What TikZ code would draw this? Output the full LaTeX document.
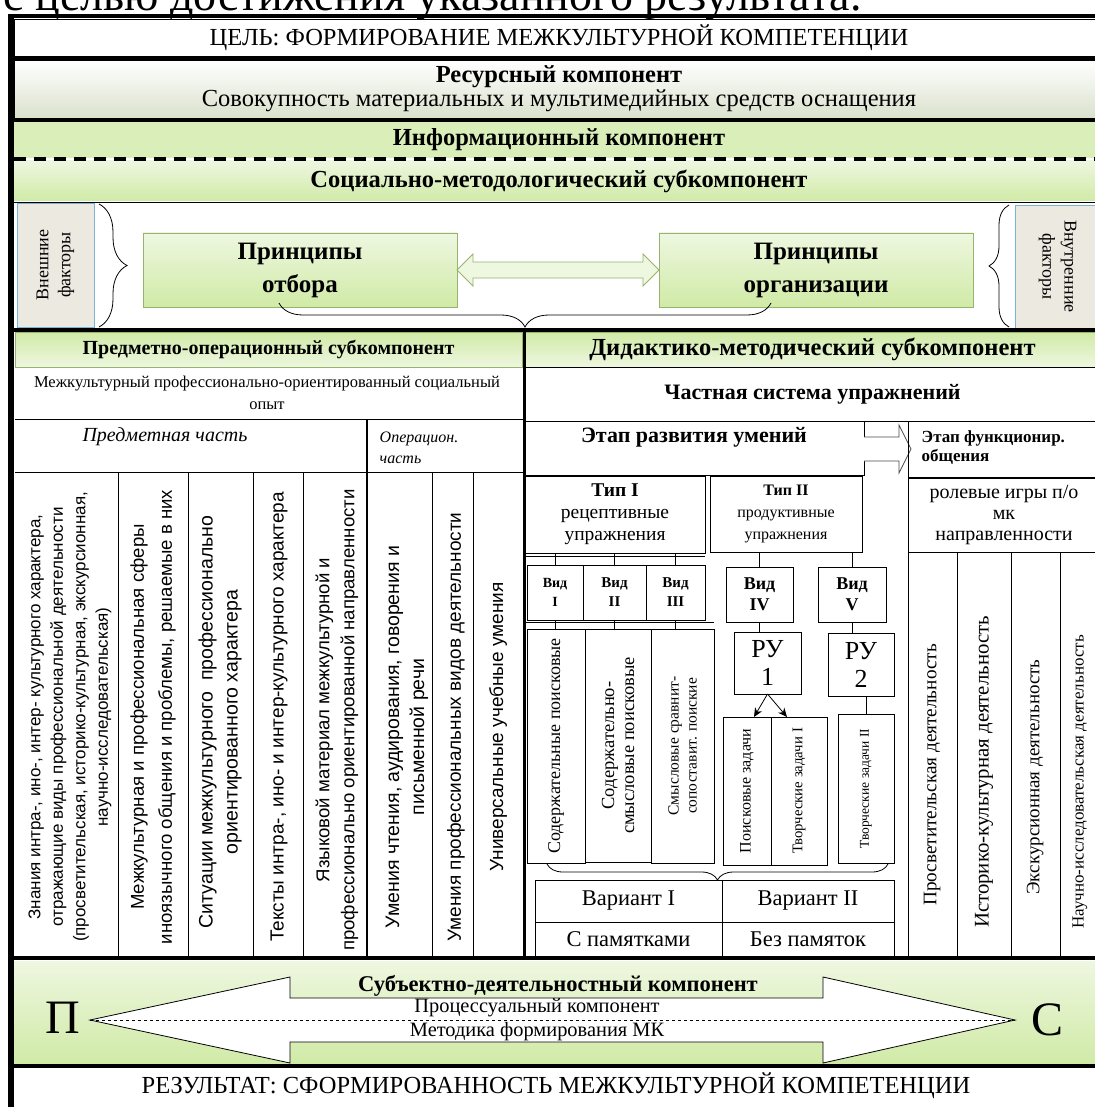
\documentclass[tikz,border=0pt]{standalone}
\usepackage{fontspec}
\setmainfont{Liberation Serif}
\newfontfamily\colsans{Liberation Sans}
\usetikzlibrary{positioning,arrows.meta,decorations.pathreplacing}
\newcommand\fsz[2]{\fontsize{#1}{#2}\selectfont}
\definecolor{barlight}{RGB}{238,247,224}
\definecolor{bargreen}{RGB}{208,234,166}
\definecolor{edgegreen}{RGB}{150,180,110}
\definecolor{factgray}{RGB}{236,233,225}
\definecolor{factblue}{RGB}{120,180,215}
\definecolor{resgray}{RGB}{218,225,205}

\begin{document}
\begin{tikzpicture}[x=1pt, y=-1pt, line width=0.8pt,
  box/.style={draw, anchor=north west, inner sep=0pt, outer sep=0pt, align=center},
  greenbox/.style={box, draw=edgegreen, top color=barlight, bottom color=bargreen},
  hdrbox/.style={box, draw=edgegreen, top color=bargreen, bottom color=barlight},
  sidebox/.style={box, draw=factblue, fill=factgray},
  vtext/.style={rotate=90, align=center},
  heavy/.style={line width=4.5pt},
  arrowtip/.style={-{Stealth[length=9pt,width=8pt]}},
  cbrace/.style={decorate, decoration={brace, amplitude=#1}}]
\fill[white] (0,0) rectangle (1094,1107);
\useasboundingbox (0,0) rectangle (1094,1107);

\node[anchor=base west, font=\fsz{46}{50}] (lead) at (0,11) {с целью достижения указанного результата.};

\node[box, fill=white, minimum width=1090, minimum height=38, font=\fsz{24.5}{28}] (goal) at (14,19) {ЦЕЛЬ: ФОРМИРОВАНИЕ МЕЖКУЛЬТУРНОЙ КОМПЕТЕНЦИИ};
\node[box, minimum width=1090, minimum height=58, top color=white, bottom color=resgray, font=\fsz{24.5}{24}] (res) at (14,60) {\textbf{Ресурсный компонент}\\Совокупность материальных и мультимедийных средств оснащения};
\node[box, draw=none, minimum width=1090, minimum height=36, fill=bargreen!80!white, font=\bfseries\fsz{24.5}{28}] (info) at (14,122) {Информационный компонент};
\node[greenbox, draw=none, minimum width=1090, minimum height=40, font=\bfseries\fsz{24.5}{28}] (soc) at (14,161) {Социально-методологический субкомпонент};
\draw[heavy] (8,16) -- (1100,16);
\draw[heavy] (8,58) -- (1100,58);
\draw[heavy] (8,120) -- (1100,120);
\draw[heavy, dash pattern=on 12pt off 8pt] (14,159) -- (1100,159);
\draw (14,202) -- (1100,202);

\node[sidebox, minimum width=77, minimum height=124] (ext) at (17,203) {};
\node[vtext, font=\fsz{18}{22}] (extl) at (ext) {Внешние\\факторы};
\draw[cbrace=28] (99,204) -- (99,327);
\node[greenbox, minimum width=314, minimum height=74, font=\bfseries\fsz{25}{33}] (selp) at (143,233) {Принципы\\отбора};
\node[greenbox, minimum width=314, minimum height=74, font=\bfseries\fsz{25}{33}] (orgp) at (659,233) {Принципы\\организации};
\draw[draw=edgegreen, fill=barlight] (selp.east) -- ++(16,-16) -- ++(0,8) -- ++(170,0) -- ++(0,-8) -- (orgp.west) -- ++(-16,16) -- ++(0,-8) -- ++(-170,0) -- ++(0,8) -- cycle;
\draw[cbrace=20] (1009,327) -- (1009,205);
\node[sidebox, minimum width=85, minimum height=123] (intf) at (1015,205) {};
\node[rotate=-90, align=center, font=\fsz{18}{22}] (intfl) at (intf) {Внутренние\\факторы};
\draw[cbrace=24] (771,303) -- (279,303);
\draw[heavy] (8,330) -- (1100,330);

\node[hdrbox, minimum width=507, minimum height=35, font=\bfseries\fsz{20}{24}] (subj) at (15,332) {Предметно-операционный субкомпонент};
\node[hdrbox, minimum width=575, minimum height=35, font=\bfseries\fsz{24.5}{28}] (didm) at (525,332) {Дидактико-методический субкомпонент};

\node[align=center, font=\fsz{16.5}{22}] (socexp) at (267,393) {Межкультурный профессионально-ориентированный социальный\\опыт};
\draw (15,419) -- (524,419);
\node[font=\itshape\fsz{20}{24}] (subjp) at (165,437) {Предметная часть};
\node[anchor=west, align=left, font=\itshape\fsz{16}{21}] (operp) at (376,448) {Операцион.\\часть};
\draw (15,472) -- (524,472);
\draw[line width=1.5pt] (367,419) -- (367,957);
\foreach \x in {118,188,253,303,432,473} \draw (\x,472) -- (\x,957);
\node[vtext, font=\colsans\fsz{17}{22.5}] (k1) at (70,717) {Знания интра-, ино-, интер- культурного характера,\\отражающие виды профессиональной деятельности\\(просветительская, историко-культурная, экскурсионная,\\научно-исследовательская)};
\node[vtext, font=\colsans\fsz{18.6}{28}] (k2) at (153,717) {Межкультурная и профессиональная сферы\\иноязычного общения и проблемы, решаемые в них};
\node[vtext, font=\colsans\fsz{19.5}{25}] (k3) at (220,722) {Ситуации межкультурного\ \ профессионально\\ориентированного характера};
\node[vtext, font=\colsans\fsz{19}{25}] (k4) at (279,717) {Тексты интра-, ино- и интер-культурного характера};
\node[vtext, font=\colsans\fsz{18.6}{25}] (k5) at (337,720) {Языковой материал межкультурной и\\профессионально ориентированной направленности};
\node[vtext, font=\colsans\fsz{19.5}{25}] (k6) at (407,737) {Умения чтения, аудирования, говорения и\\письменной речи};
\node[vtext, font=\colsans\fsz{19}{25}] (k7) at (456,727) {Умения профессиональных видов деятельности};
\node[vtext, font=\colsans\fsz{19}{25}] (k8) at (498,727) {Универсальные учебные умения};

\node[box, minimum width=575, minimum height=54, font=\bfseries\fsz{22}{26}] (partsys) at (525,367) {Частная система упражнений};
\node[box, minimum width=339, minimum height=54] (devst) at (525,421) {};
\node[font=\bfseries\fsz{22}{26}] (devstl) at (694,437) {Этап развития умений};
\draw[draw=gray!60!black, fill=white] (devst.east) ++(0,-11) -- ++(35,0) -- ++(0,-12) -- ++(12,24) -- ++(-12,24) -- ++(0,-12) -- ++(-35,0);
\node[box, minimum width=192, minimum height=56] (funst) at (908,421) {};
\node[anchor=north west, align=left, font=\bfseries\fsz{17}{19}] (funstl) at (918,427) {Этап функционир.\\общения};

\node[box, minimum width=180, minimum height=77, font=\fsz{19.5}{22}] (type1) at (525,476) {\textbf{Тип I}\\рецептивные\\упражнения};
\node[box, minimum width=152, minimum height=76, font=\fsz{16}{22}] (type2) at (710,476) {\textbf{Тип II}\\продуктивные\\упражнения};
\node[box, minimum width=192, minimum height=74, font=\fsz{20}{21}] (roleg) at (908,478) {ролевые игры п/о\\мк\\направленности};

\node[box, minimum width=56, minimum height=55, font=\bfseries\fsz{14}{19}] (vid1) at (527,565) {Вид\\I};
\node[box, minimum width=63, minimum height=55, font=\bfseries\fsz{15}{19}] (vid2) at (583,565) {Вид\\II};
\node[box, minimum width=59, minimum height=55, font=\bfseries\fsz{15}{19}] (vid3) at (646,565) {Вид\\III};
\node[box, minimum width=67, minimum height=55, font=\bfseries\fsz{18}{21}] (vid4) at (726,567) {Вид\\IV};
\node[box, minimum width=68, minimum height=55, font=\bfseries\fsz{18}{21}] (vid5) at (818,567) {Вид\\V};
\draw (525,556) -- (705,556);
\draw (525,622) -- (714,622);
\foreach \v in {vid1,vid2,vid3} \draw (\v.north) -- (\v.north |- type1.south);
\foreach \v in {vid4,vid5} \draw (\v.north) -- (\v.north |- type2.south);

\node[box, minimum width=58, minimum height=234] (cont1) at (527,629) {};
\node[box, minimum width=66, minimum height=233] (cont2) at (585,629) {};
\node[box, minimum width=63, minimum height=234] (cont3) at (651,629) {};
\foreach \v/\c in {vid1/cont1,vid2/cont2,vid3/cont3} \draw (\v.south) -- (\v.south |- \c.north);
\node[vtext, font=\fsz{18}{20}] (cont1l) at (cont1) {Содержательные поисковые};
\node[vtext, font=\fsz{18.5}{20}] (cont2l) at (cont2) {Содержательно-\\смысловые поисковые};
\node[vtext, font=\fsz{15.5}{18}] (cont3l) at (cont3) {Смысловые сравнит-\\сопоставит. поиские};

\node[box, minimum width=67, minimum height=62, font=\fsz{26}{28}] (ru1) at (734,632) {РУ\\1};
\node[box, minimum width=66, minimum height=63, font=\fsz{26}{28}] (ru2) at (828,633) {РУ\\2};
\draw (vid4.south) -- (vid4.south |- ru1.north);
\draw (vid5.south) -- (vid5.south |- ru2.north);
\node[box, minimum width=48, minimum height=148] (srch) at (723,717) {};
\node[box, minimum width=56, minimum height=148] (crt1) at (771,717) {};
\node[box, minimum width=56, minimum height=149] (crt2) at (838,714) {};
\node[vtext, font=\fsz{16}{18}] (srchl) at (srch) {Поисковые задачи};
\node[vtext, font=\fsz{14.8}{16}] (crt1l) at (crt1) {Творческие задачи I};
\node[vtext, font=\fsz{13.5}{14}] (crt2l) at (crt2) {Творческие задачи II};
\draw[arrowtip] (ru1.south) -- ([xshift=7pt]srch.north);
\draw[arrowtip] (ru1.south) -- ([xshift=-12pt]crt1.north);
\draw (ru2.south -| crt2.north) -- (crt2.north);
\draw[cbrace=16] (888,864) -- (547,864);

\node[box, minimum width=187, minimum height=42, font=\fsz{22.5}{24}] (var1) at (535,880) {Вариант I};
\node[box, minimum width=172, minimum height=42, font=\fsz{22.5}{24}] (var2) at (722,880) {Вариант II};
\node[box, minimum width=187, minimum height=35, font=\fsz{22.5}{24}] (memo1) at (535,922) {С памятками};
\node[box, minimum width=172, minimum height=35, font=\fsz{22.5}{24}] (memo2) at (722,922) {Без памяток};

\draw (908,421) -- (908,957);
\foreach \x in {957,1011,1060} \draw (\x,552) -- (\x,957);
\node[vtext, font=\fsz{19.2}{22}] (act1) at (932,775) {Просветительская деятельность};
\node[vtext, font=\fsz{20.8}{22}] (act2) at (984,772) {Историко-культурная деятельность};
\node[vtext, font=\fsz{19}{22}] (act3) at (1035,777) {Экскурсионная деятельность};
\node[vtext, font=\fsz{17}{20}] (act4) at (1080,782) {Научно-исследовательская деятельность};

\draw[line width=3pt] (524,330) -- (524,957);
\draw[heavy] (8,958) -- (1100,958);

\node[box, draw=none, minimum width=1090, minimum height=104, top color=barlight, bottom color=bargreen] (actband) at (14,961) {};
\node[font=\fsz{48}{50}] (pole) at (63,1018) {П};
\node[font=\fsz{48}{50}] (sole) at (1047,1020) {С};
\coordinate (lapex) at (90,1020);
\coordinate (rapex) at (1015,1020);
\draw[fill=white] (lapex) -- (290,977) -- (290,998) -- (823,998) -- (823,977) -- (rapex) -- (823,1063) -- (823,1042) -- (290,1042) -- (290,1063) -- cycle;
\draw[dashed] (lapex) -- (rapex);
\node[font=\bfseries\fsz{22.5}{26}] (sdc) at (558,986) {Субъектно-деятельностный компонент};
\node[font=\fsz{20.4}{22}] (procc) at (537,1008) {Процессуальный компонент};
\node[font=\fsz{20.4}{22}] (meth) at (537,1032) {Методика формирования МК};
\draw[heavy] (8,1066) -- (1100,1066);
\node[font=\fsz{24.5}{28}] (result) at (556,1086) {РЕЗУЛЬТАТ: СФОРМИРОВАННОСТЬ МЕЖКУЛЬТУРНОЙ КОМПЕТЕНЦИИ};

\draw[line width=6pt] (11,14) -- (11,1107);
\end{tikzpicture}
\end{document}
